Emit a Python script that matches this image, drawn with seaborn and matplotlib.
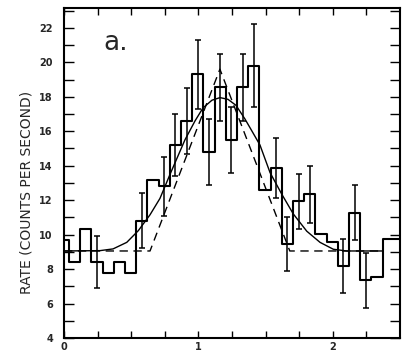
import numpy as np
import pandas as pd
import matplotlib
matplotlib.use("Agg")
from matplotlib import pyplot as plt
import seaborn as sns

# bin edges (1/12 wide, partial bins at both ends) and measured rates
edges = [0.0, 0.037, 0.120, 0.204, 0.287, 0.370, 0.454, 0.537, 0.620, 0.704,
         0.787, 0.870, 0.954, 1.037, 1.120, 1.204, 1.287, 1.370, 1.454, 1.537,
         1.620, 1.704, 1.787, 1.870, 1.954, 2.037, 2.120, 2.204, 2.287, 2.370, 2.5]
rate = [9.7, 8.43, 10.33, 8.43, 7.8, 8.43, 7.8, 10.8, 13.15, 12.8,
        15.2, 16.6, 19.3, 14.8, 18.55, 15.5, 18.55, 19.8, 12.56, 13.86,
        9.46, 11.94, 12.33, 10.04, 9.59, 8.19, 11.26, 7.36, 7.55, 9.75]
# error bar half-heights (0 = no bar drawn)
rate_err = [0, 0, 0, 1.5, 0, 0, 0, 1.6, 0, 1.7,
            1.8, 1.9, 2.0, 1.9, 1.95, 1.9, 1.95, 2.4, 0, 1.75,
            1.55, 1.6, 1.65, 0, 0, 1.55, 1.6, 1.6, 0, 0]

# smooth fit (solid) and triangular model (dashed)
fit_x = [0.0, 0.268, 0.365, 0.467, 0.553, 0.640, 0.714, 0.789, 0.900, 0.975,
         1.034, 1.101, 1.161, 1.220, 1.280, 1.347, 1.399, 1.458, 1.533, 1.620,
         1.706, 1.806, 1.905, 2.004, 2.103, 2.366]
fit_y = [9.05, 9.07, 9.17, 9.55, 10.23, 11.15, 12.1, 13.5, 15.5, 16.6,
         17.35, 17.8, 17.95, 17.85, 17.5, 16.7, 16.0, 15.2, 13.6, 12.35,
         11.2, 10.2, 9.55, 9.15, 9.05, 9.05]
tri_x = [0.0, 0.64, 1.16, 1.68, 2.366]
tri_y = [9.05, 9.05, 19.6, 9.05, 9.05]

y_ticks = list(range(4, 24))
y_ticklabels = [str(v) if v % 2 == 0 else "" for v in y_ticks]
x_ticks = [0, 0.25, 0.5, 0.75, 1, 1.25, 1.5, 1.75, 2, 2.25]
x_ticklabels = ["0", "", "", "", "1", "", "", "", "2", ""]

sns.set_style("ticks")
plt.rcParams["font.family"] = ["DejaVu Sans"]

centers = [(a + b) / 2 for a, b in zip(edges[:-1], edges[1:])]
hist_df = pd.DataFrame({"phase": centers, "rate": rate, "err": rate_err})

fig = plt.figure(figsize=(4.09, 3.6), dpi=100)
ax = fig.add_axes([64 / 409, 22 / 360, 336 / 409, 330 / 360])

sns.histplot(data=hist_df, x="phase", weights="rate", bins=edges,
             element="step", fill=False, color="black", linewidth=1.5, ax=ax)

bars = hist_df[hist_df["err"] > 0]
ax.errorbar(bars["phase"], bars["rate"], yerr=bars["err"], fmt="none",
            ecolor="black", elinewidth=1.1, capsize=2, capthick=1.1)

sns.lineplot(x=fit_x, y=fit_y, color="black", linewidth=1.0, ax=ax)
sns.lineplot(x=tri_x, y=tri_y, color="black", linewidth=1.0, ax=ax,
             linestyle=(0, (6, 4)))

ax.set_xlim(0, 2.5)
ax.set_ylim(4, 23.15)
ax.set_xticks(x_ticks)
ax.set_xticklabels(x_ticklabels, fontsize=7, fontweight="bold")
ax.set_yticks(y_ticks)
ax.set_yticklabels(y_ticklabels, fontsize=7, fontweight="bold")
ax.tick_params(axis="both", direction="in", top=True, right=True,
               width=1.0, color="black")
ax.tick_params(axis="y", length=7, pad=8)
ax.tick_params(axis="x", length=5, pad=3)
for side in ax.spines.values():
    side.set_linewidth(1.5)
    side.set_color("black")

ax.set_xlabel("")
ax.set_ylabel("RATE (COUNTS PER SECOND)", fontsize=10)
ax.yaxis.set_label_coords(-0.092, 0.44)

ax.text(0.29, 20.7, "a.", fontsize=19, ha="left", va="baseline")

fig.savefig("out.png", dpi=100)
